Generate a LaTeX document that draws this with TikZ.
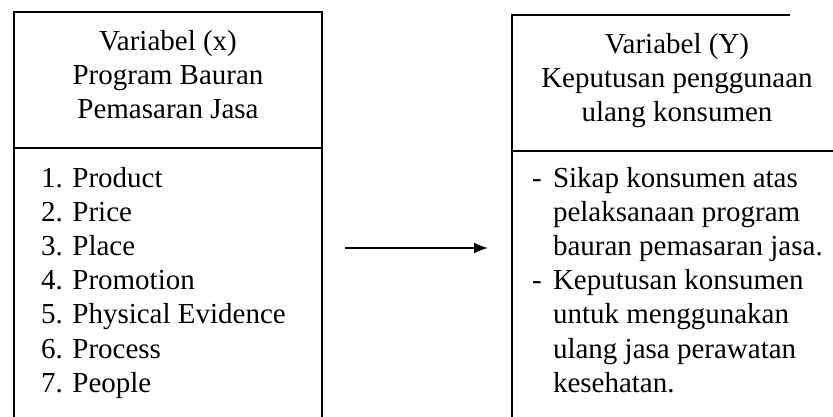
\documentclass[tikz,border=0pt]{standalone}
\usepackage{fontspec}
\setmainfont{Liberation Serif}
\usetikzlibrary{arrows.meta}
\begin{document}
\begin{tikzpicture}[x=1pt,y=-1pt,
  boxline/.style={line width=1.6pt,black},
  txt/.style={font=\fontsize{29}{34}\selectfont,inner sep=0pt,outer sep=0pt},
  hd/.style={txt,anchor=base},
  li/.style={txt,anchor=base west}]
\useasboundingbox (0,0) rectangle (833,417);
% left box
\draw[boxline] (14,425) -- (14,12) -- (322,12) -- (322,425);
\draw[boxline] (14,148) -- (322,148);
% right box (cropped on the right)
\draw[boxline] (512,425) -- (512,15) -- (790,15);
\draw[boxline] (512,151) -- (840,151);
% left header
\node[hd] (lh1) at (168,51) {Variabel (x)};
\node[hd] (lh2) at (168,85) {Program Bauran};
\node[hd] (lh3) at (168,119) {Pemasaran Jasa};
% right header
\node[hd] (rh1) at (677,54) {Variabel (Y)};
\node[hd] (rh2) at (677,88) {Keputusan penggunaan};
\node[hd] (rh3) at (677,122) {ulang konsumen};
% left list
\node[li] (l1) at (41,187) {1. Product};
\node[li] (l2) at (41,221.2) {2. Price};
\node[li] (l3) at (41,255.4) {3. Place};
\node[li] (l4) at (41,289.6) {4. Promotion};
\node[li] (l5) at (41,323.8) {5. Physical Evidence};
\node[li] (l6) at (41,358) {6. Process};
\node[li] (l7) at (41,392.2) {7. People};
% right list
\node[li] (d1) at (532,187) {-};
\node[li] (r1) at (553,187) {Sikap konsumen atas};
\node[li] (r2) at (553,221.2) {pelaksanaan program};
\node[li] (r3) at (553,255.4) {bauran pemasaran jasa.};
\node[li] (d2) at (532,289.6) {-};
\node[li] (r4) at (553,289.6) {Keputusan konsumen};
\node[li] (r5) at (553,323.8) {untuk menggunakan};
\node[li] (r6) at (553,358) {ulang jasa perawatan};
\node[li] (r7) at (553,392.2) {kesehatan.};
% arrow
\coordinate (as) at (345,248);
\coordinate (ae) at (488,248);
\draw[line width=1.8pt,-{Latex[length=14pt,width=11pt]}] (as) -- (ae);
\end{tikzpicture}
\end{document}
